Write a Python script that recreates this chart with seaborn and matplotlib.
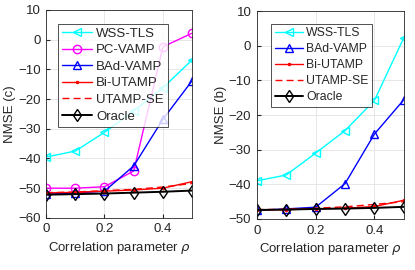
import matplotlib
matplotlib.use("Agg")
import matplotlib.pyplot as plt
import seaborn as sns
import pandas as pd

rho = [0, 0.1, 0.2, 0.3, 0.4, 0.5]

# panel (c)
c_wss = [-39.5, -37.5, -31.2, -24.0, -16.2, -6.8]
c_pcvamp = [-50.0, -50.0, -49.5, -44.2, -2.4, 2.2]
c_badvamp = [-52.0, -51.6, -51.0, -42.5, -26.8, -13.8]
c_biutamp = [-51.6, -51.4, -51.0, -50.6, -50.0, -47.8]
c_utampse = [-51.5, -51.3, -50.8, -50.4, -49.6, -48.4]
c_oracle = [-52.2, -52.0, -51.8, -51.5, -51.2, -50.8]

# panel (b)
b_wss = [-39.0, -37.3, -31.0, -24.5, -15.8, 2.3]
b_badvamp = [-47.5, -47.1, -46.6, -39.8, -25.5, -15.6]
b_biutamp = [-47.4, -47.3, -47.1, -46.9, -46.4, -44.6]
b_utampse = [-47.3, -47.2, -46.9, -46.5, -45.8, -45.0]
b_oracle = [-47.4, -47.3, -47.1, -47.0, -46.8, -46.5]

styles = {
    "WSS-TLS": dict(color="cyan", marker="<", ms=6, lw=1.0),
    "PC-VAMP": dict(color="magenta", marker="o", ms=6, lw=1.0),
    "BAd-VAMP": dict(color="blue", marker="^", ms=6, lw=1.0),
    "Bi-UTAMP": dict(color="red", marker=".", ms=3.5, lw=1.0),
    "UTAMP-SE": dict(color="red", marker=None, ms=0, lw=1.0, ls=(0, (5, 3))),
    "Oracle": dict(color="black", marker="d", ms=6.5, lw=1.4),
}

sns.set_style("ticks")
plt.rcParams["font.family"] = ["Liberation Sans", "DejaVu Sans"]
plt.rcParams["font.size"] = 9.5

fig = plt.figure(figsize=(4.15, 2.70), dpi=100)
ax1 = fig.add_axes([0.111, 0.193, 0.352, 0.770])
ax2 = fig.add_axes([0.619, 0.189, 0.354, 0.770])


def draw(ax, series, ylim, yticks, ylabel, legsize, anchor):
    for name, vals in series:
        st = styles[name]
        df = pd.DataFrame({"rho": rho, "nmse": vals})
        ls = st.get("ls", "-")
        kw = dict(markerfacecolor="none", markeredgewidth=1.0) if st["marker"] not in (None, ".") else {}
        sns.lineplot(data=df, x="rho", y="nmse", ax=ax, color=st["color"],
                     marker=st["marker"], markersize=st["ms"], linewidth=st["lw"],
                     linestyle=ls, label=name, markeredgecolor=st["color"], **kw)
    ax.set_xlim(0, 0.5)
    ax.set_ylim(*ylim)
    ax.set_xticks([0, 0.2, 0.4])
    ax.set_xticklabels(["0", "0.2", "0.4"])
    ax.set_yticks(yticks)
    ax.grid(True, color="#e3e3e3", lw=0.6)
    ax.set_axisbelow(True)
    ax.tick_params(direction="in", length=3, colors="#262626", labelsize=9.5, pad=4)
    for sp in ax.spines.values():
        sp.set_visible(True)
        sp.set_color("#262626")
        sp.set_linewidth(0.6)
    ax.set_xlabel("Correlation parameter $\\rho$", fontsize=9.5, labelpad=3)
    ax.set_ylabel(ylabel, fontsize=9.5, labelpad=1)
    leg = ax.legend(loc="upper left", bbox_to_anchor=anchor, fontsize=legsize,
                    frameon=True, fancybox=False, edgecolor="black",
                    handlelength=2.3, handletextpad=0.3, borderpad=0.3,
                    labelspacing=0.33, borderaxespad=0.0)
    leg.get_frame().set_linewidth(0.6)


draw(ax1, [("WSS-TLS", c_wss), ("PC-VAMP", c_pcvamp), ("BAd-VAMP", c_badvamp),
           ("Bi-UTAMP", c_biutamp), ("UTAMP-SE", c_utampse), ("Oracle", c_oracle)],
     (-60, 10), range(-60, 11, 10), "NMSE (c)", 9.5, (0.08, 0.935))
draw(ax2, [("WSS-TLS", b_wss), ("BAd-VAMP", b_badvamp),
           ("Bi-UTAMP", b_biutamp), ("UTAMP-SE", b_utampse), ("Oracle", b_oracle)],
     (-50, 10), range(-50, 11, 10), "NMSE (b)", 8.8, (0.095, 0.94))

fig.savefig("out.png", dpi=100)
